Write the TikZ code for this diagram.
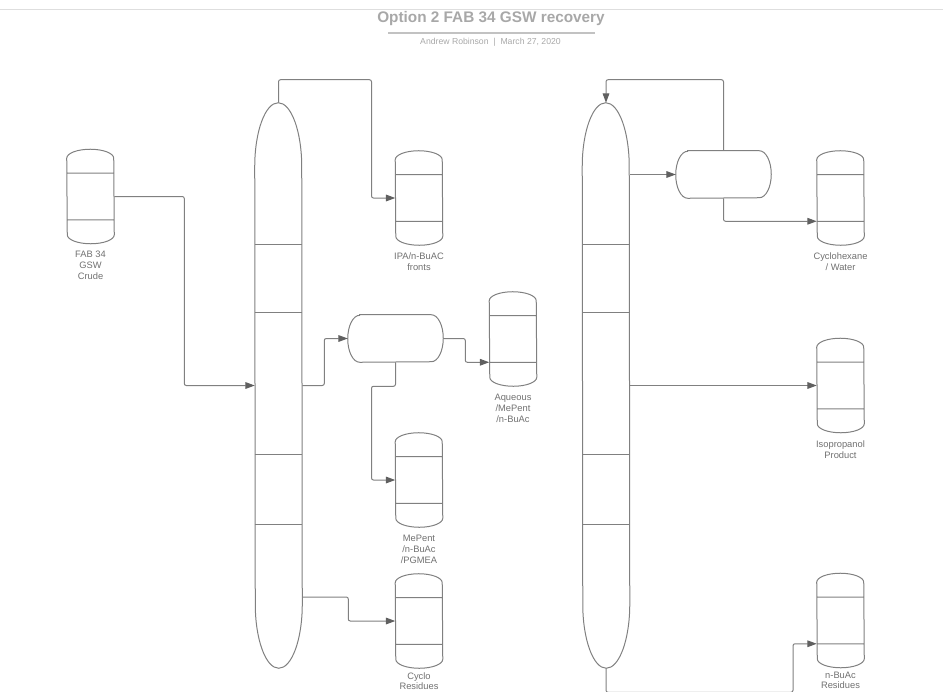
\documentclass[tikz,border=0pt]{standalone}
\usepackage{fontspec}
\setmainfont{Liberation Sans}
\usetikzlibrary{arrows.meta,positioning,calc}
\definecolor{linegray}{RGB}{128,128,128}
\definecolor{tipgray}{RGB}{96,96,96}
\definecolor{textgray}{RGB}{112,112,112}
\definecolor{titlegray}{RGB}{168,168,168}
\definecolor{rulegray}{RGB}{222,222,222}

% vertical tank with two bands
\newcommand{\tankat}[2]{%
  \node[tank] (#1) at #2 {};
  \draw[vessel] ([yshift=-6.75pt]#1.north west)
      arc[start angle=180,end angle=0,x radius=17.625pt,y radius=6.75pt]
      -- ([yshift=6.75pt]#1.south east)
      arc[start angle=0,end angle=-180,x radius=17.625pt,y radius=6.75pt] -- cycle
    ([yshift=-18pt]#1.north west) -- ([yshift=-18pt]#1.north east)
    ([yshift=18pt]#1.south west) -- ([yshift=18pt]#1.south east);}
% column with trays
\newcommand{\towerat}[2]{%
  \node[tower] (#1) at #2 {};
  \draw[vessel] ([yshift=-48pt]#1.north west)
      arc[start angle=180,end angle=0,x radius=17.625pt,y radius=48pt]
      -- ([yshift=48pt]#1.south east)
      arc[start angle=0,end angle=-180,x radius=17.625pt,y radius=48pt] -- cycle;
  \foreach \off in {105.4,54.4,-52.1,-104.6}
    \draw[vessel] ([yshift=\off pt]#1.west) -- ([yshift=\off pt]#1.east);}
% horizontal drum
\newcommand{\drumat}[2]{%
  \node[drum] (#1) at #2 {};
  \draw[vessel] ([xshift=9pt]#1.north west) -- ([xshift=-9pt]#1.north east)
      arc[start angle=90,end angle=-90,x radius=9pt,y radius=17.625pt]
      -- ([xshift=9pt]#1.south west)
      arc[start angle=270,end angle=90,x radius=9pt,y radius=17.625pt] -- cycle;}

\begin{document}
\begin{tikzpicture}[x=0.75pt,y=-0.75pt,
  vessel/.style={draw=linegray, line width=0.75pt},
  tank/.style={inner sep=0pt, minimum width=35.25pt, minimum height=70.5pt},
  tower/.style={inner sep=0pt, minimum width=35.25pt, minimum height=423.75pt},
  drum/.style={inner sep=0pt, minimum width=71.25pt, minimum height=35.25pt},
  pipe/.style={draw=linegray, line width=0.75pt, rounded corners=1.5pt, ->},
  lbl/.style={align=center, inner sep=0pt, text=textgray, font=\fontsize{7}{8.25}\selectfont},
  >={Triangle[length=7pt,width=5pt,color=tipgray]}]
  \useasboundingbox (0,0) rectangle (943,692);
  % header
  \draw[rulegray, line width=1pt] (0,9.5) -- (943,9.5);
  \node[font=\fontsize{11.5}{13}\bfseries, text=titlegray] (title) at (491,19) {Option 2 FAB 34 GSW recovery};
  \draw[titlegray!70, line width=1pt] (388,33) -- (595,33);
  \node[font=\fontsize{6.5}{8}\selectfont, text=titlegray] (byline) at (490.5,42) {Andrew Robinson \ | \ March 27, 2020};

  % vessels
  \tankat{fab}{(90.5,196.5)}
  \towerat{lcol}{(278.5,385.5)}
  \tankat{ipa}{(419,198)}
  \drumat{sepa}{(395.5,338.5)}
  \tankat{aq}{(513,339)}
  \tankat{mp}{(419,480)}
  \tankat{cyc}{(419,621)}
  \towerat{rcol}{(606,385.5)}
  \drumat{sepb}{(723.5,174.5)}
  \tankat{cx}{(840.5,198)}
  \tankat{iso}{(840.5,385.5)}
  \tankat{nb}{(840.5,620.5)}

  % labels
  \node[lbl, below=5.5pt of fab] (fabl) {FAB 34\\GSW\\Crude};
  \node[lbl, below=5.5pt of ipa] (ipal) {IPA/n-BuAC\\fronts};
  \node[lbl, below=5.5pt of aq] (aql) {Aqueous\\/MePent\\/n-BuAc};
  \node[lbl, below=5.5pt of mp] (mpl) {MePent\\/n-BuAc\\/PGMEA};
  \node[lbl, below=3pt of cyc, font=\fontsize{7}{7.9}\selectfont] (cycl) {Cyclo\\Residues};
  \node[lbl, below=5.5pt of cx] (cxl) {Cyclohexane\\/ Water};
  \node[lbl, below=5.5pt of iso] (isol) {Isopropanol\\Product};
  \node[lbl, below=3pt of nb, font=\fontsize{7}{7.9}\selectfont] (nbl) {n-BuAc\\Residues};

  % streams
  \draw[pipe] (fab.east) -- ++(70,0) |- (lcol.west);
  \draw[pipe] (lcol.north) |- ++(93,-23) |- (ipa.west);
  \draw[pipe] (lcol.east) -- ++(22,0) |- (sepa.west);
  \draw[pipe] (sepa.east) -- ++(22,0) |- ([yshift=18pt]aq.south west);
  \draw[pipe] (sepa.south) -- ++(0,24) -- ++(-24,0) |- (mp.west);
  \draw[pipe] ($(lcol.east)+(0,211.5)$) -- ++(46,0) |- (cyc.west);
  \draw[pipe] ($(rcol.east)+(0,-211)$) -- (sepb.west);
  \draw[pipe] (sepb.north) -- ++(0,-71) -| (rcol.north);
  \draw[pipe] (sepb.south) |- ([yshift=18pt]cx.south west);
  \draw[pipe] (rcol.east) -- (iso.west);
  \draw[pipe] (rcol.south) -- ++(0,24) -- ++(187,0) |- ([yshift=18pt]nb.south west);
\end{tikzpicture}
\end{document}
